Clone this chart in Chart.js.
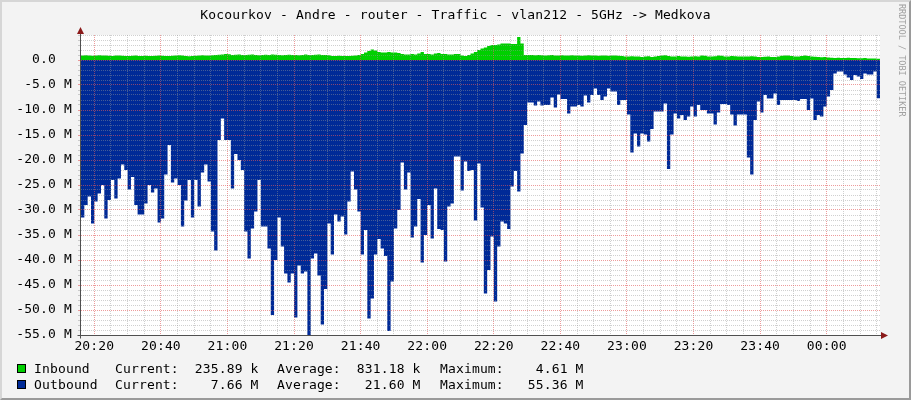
<!DOCTYPE html>
<html>
<head>
<meta charset="utf-8">
<script src="https://cdn.jsdelivr.net/npm/chart.js@4.4.0/dist/chart.umd.min.js"></script>
<style>
html, body { margin: 0; padding: 0; background: #f3f3f3; }
#wrap { position: relative; width: 911px; height: 400px; background: #f3f3f3; overflow: hidden;
        font-family: "DejaVu Sans Mono", monospace; font-size: 13px; letter-spacing: 0.15px; color: #000; }
#chart { position: absolute; left: 0; top: 0; }
#title { position: absolute; left: 0; top: 7px; width: 911px; text-align: center; line-height: 16px; white-space: pre; }
.row { position: absolute; left: 0; width: 911px; height: 16px; line-height: 16px; white-space: pre; }
.row span { position: absolute; top: 0; }
.sw { position: absolute; left: 17px; width: 7px; height: 7px; border: 1px solid #000; }
#mark { position: absolute; left: 897px; top: 4px; width: 9px; line-height: 9px; font-size: 8.5px; letter-spacing: 0;
        color: #a0a0a0; writing-mode: vertical-rl; white-space: nowrap; }
#frame { position: absolute; left: 0; top: 0; width: 907px; height: 396px; pointer-events: none;
         border-top: 2px solid #d6d6d6; border-left: 2px solid #d6d6d6;
         border-right: 2px solid #9a9a9a; border-bottom: 2px solid #9a9a9a; }
</style>
</head>
<body>
<div id="wrap">
  <canvas id="chart" width="911" height="400"></canvas>
  <div id="title">Kocourkov - Andre - router - Traffic - vlan212 - 5GHz -&gt; Medkova</div>
  <div class="sw" style="top:364px;background:#00CF00"></div>
  <div class="row" style="top:361px">
    <span style="left:34px">Inbound</span>
    <span style="left:115px">Current:  235.89 k</span>
    <span style="left:277px">Average:  831.18 k</span>
    <span style="left:440px">Maximum:    4.61 M</span>
  </div>
  <div class="sw" style="top:380px;background:#002A97"></div>
  <div class="row" style="top:377px">
    <span style="left:34px">Outbound</span>
    <span style="left:115px">Current:    7.66 M</span>
    <span style="left:277px">Average:   21.60 M</span>
    <span style="left:440px">Maximum:   55.36 M</span>
  </div>
  <div id="mark">RRDTOOL / TOBI OETIKER</div>
  <div id="frame"></div>
</div>
<script>
// Heure du premier échantillon (1 valeur par minute)
const startTime = '20:16';

// Trafic sortant, Mbit/s (dessiné vers le bas)
const outboundMbps = [
    31.5, 29, 27.3, 32.7, 28.3, 26.7, 25, 31.7, 28, 24,
    27.7, 23.7, 20.9, 22, 25.9, 23.4, 29, 30.9, 30.9, 28.7,
    25, 26.5, 25.7, 32.5, 31.7, 22.9, 17, 24.5, 23.7, 25,
    33.3, 28.1, 24, 31.5, 24, 29.3, 22.5, 20.9, 24.3, 34.3,
    38.1, 16, 11.7, 16, 16, 25.7, 18.8, 20, 22, 34.3,
    39.7, 33.7, 30.3, 24, 33.3, 33.3, 37.7, 51, 40, 31.5,
    37.3, 42.7, 44.5, 42.7, 51.5, 41.1, 42.7, 42.3, 55.36, 39.7,
    38.7, 43.1, 52.9, 45.8, 32.7, 38.9, 30.9, 32.3, 31.3, 34.9,
    28.3, 22.3, 25.9, 30.3, 38.9, 34, 51.7, 47.7, 38.9, 35.8,
    37.7, 39.2, 54.2, 44.3, 33.7, 30, 20.5, 25.9, 22.5, 35.5,
    33.3, 27.8, 40.5, 35, 29, 35.7, 25.7, 33.8, 34, 40.3,
    29.3, 28.7, 19.3, 19.3, 26.1, 20.3, 22.2, 22, 32.1, 20.7,
    29.5, 46.7, 42, 35.3, 48.3, 37.3, 32.3, 32.7, 33.8, 25.3,
    22.2, 26.3, 18.7, 13, 8.5, 8.5, 9.1, 8.3, 9.1, 9,
    9, 7.5, 9.5, 6.9, 7.8, 7.8, 10.7, 9.3, 9.3, 9,
    9.3, 7.1, 8.5, 7, 5.7, 7, 8, 7.3, 5.7, 6.3,
    6.3, 9, 8, 8, 10.9, 18.5, 14.7, 17.3, 14.7, 14.9,
    16.3, 13.8, 10.3, 10.3, 10.3, 8.7, 21.8, 14.9, 10.7, 11.7,
    11, 12, 11.3, 9.3, 11.3, 9, 10, 10, 10.7, 10.7,
    12.9, 10.5, 8.8, 8.8, 9, 10.9, 13.1, 10.9, 10.9, 10.9,
    19.5, 22.9, 12, 8.3, 10.5, 7, 7.7, 7.7, 6.7, 9,
    8, 8, 8, 8, 8, 8.2, 7.8, 7.8, 10, 7.7,
    12, 11, 11.3, 9.3, 7.3, 6, 2.7, 2.3, 2.3, 2.9,
    3.5, 4, 3, 3.3, 3.8, 2.7, 2.9, 2.9, 2.3, 7.66
];

// Trafic entrant, Mbit/s (dessiné vers le haut)
const inboundMbps = [
    0.9, 0.95, 0.9, 0.85, 0.9, 0.95, 0.9, 0.9, 0.85, 0.8,
    0.9, 0.9, 0.85, 0.8, 0.8, 0.85, 0.9, 0.8, 0.8, 0.85,
    0.8, 0.8, 0.85, 0.9, 0.85, 0.8, 0.8, 0.85, 0.9, 0.95,
    0.9, 0.8, 0.75, 0.8, 0.85, 0.9, 0.95, 0.9, 0.9, 0.95,
    1.0, 1.05, 1.1, 1.2, 1.15, 1.0, 1.05, 1.1, 1.0, 1.0,
    1.05, 1.1, 1.0, 0.95, 1.0, 1.05, 1.0, 1.1, 1.05, 1.0,
    0.95, 1.0, 1.05, 1.0, 1.0, 0.95, 1.0, 1.1, 1.0, 1.0,
    1.05, 1.1, 1.0, 1.0, 0.95, 0.8, 0.8, 0.85, 0.8, 0.8,
    0.8, 0.85, 0.9, 1.0, 1.2, 1.5, 1.8, 2.1, 1.9, 1.6,
    1.5, 1.5, 1.6, 1.5, 1.5, 1.4, 1.2, 1.1, 1.1, 1.2,
    1.1, 1.3, 1.6, 1.2, 1.2, 1.1, 1.3, 1.4, 1.2, 1.2,
    1.1, 1.1, 1.2, 1.2, 0.9, 0.8, 1.0, 1.3, 1.6, 2.0,
    2.3, 2.5, 2.8, 3.0, 3.0, 3.1, 3.3, 3.3, 3.3, 3.2,
    3.2, 4.61, 3.3, 1.0, 1.0, 1.0, 0.95, 1.0, 0.95, 0.9,
    0.95, 1.0, 0.9, 0.9, 0.95, 0.9, 0.9, 0.95, 0.9, 0.9,
    0.85, 0.9, 0.95, 0.9, 0.9, 0.85, 0.9, 0.9, 0.85, 0.9,
    0.9, 0.85, 0.8, 0.7, 0.7, 0.75, 0.7, 0.7, 0.6, 0.7,
    0.75, 0.6, 0.7, 0.8, 0.9, 0.95, 0.8, 0.7, 0.7, 0.8,
    0.7, 0.7, 0.65, 0.7, 0.75, 0.7, 0.9, 0.85, 0.7, 0.7,
    0.75, 0.9, 0.85, 0.7, 0.7, 0.8, 0.75, 0.7, 0.7, 0.7,
    0.7, 0.75, 0.7, 0.6, 0.6, 0.65, 0.7, 0.6, 0.6, 0.7,
    0.85, 0.9, 0.9, 0.8, 0.7, 0.7, 0.8, 0.9, 0.8, 0.7,
    0.65, 0.6, 0.55, 0.6, 0.5, 0.45, 0.4, 0.45, 0.4, 0.4,
    0.45, 0.4, 0.4, 0.35, 0.35, 0.4, 0.3, 0.3, 0.3, 0.24
];

// Etiquettes des axes
const timeLabels = ['20:20', '20:40', '21:00', '21:20', '21:40', '22:00', '22:20',
                    '22:40', '23:00', '23:20', '23:40', '00:00'];
const yTickLabels = ['0.0', '-5.0 M', '-10.0 M', '-15.0 M', '-20.0 M', '-25.0 M',
                     '-30.0 M', '-35.0 M', '-40.0 M', '-45.0 M', '-50.0 M', '-55.0 M'];

// Couleurs
const GRID_MINOR = 'rgba(150,150,150,0.45)';
const GRID_MAJOR = 'rgba(225,90,90,0.6)';

// Minutes écoulées depuis startTime
function toMinutes(s) {
    const p = s.split(':').map(Number);
    return p[0] * 60 + p[1];
}
const t0 = toMinutes(startTime);
function offsetOf(label) {
    return (toMinutes(label) - t0 + 1440) % 1440;
}
const timeTicks = timeLabels.map(offsetOf);
const yTicks = yTickLabels.map(l => parseFloat(l));

// Points (x = minute), un point final pour fermer le dernier palier
function toPoints(values, sign) {
    const pts = values.map((v, i) => ({ x: i, y: sign * v }));
    pts.push({ x: values.length, y: sign * values[values.length - 1] });
    return pts;
}

// Fond blanc de la zone de tracé, puis axes + flèches
const rrdFrame = {
    id: 'rrdFrame',
    beforeDraw(chart) {
        const a = chart.chartArea;
        const ctx = chart.ctx;
        ctx.save();
        ctx.fillStyle = '#ffffff';
        ctx.fillRect(a.left, a.top, a.right - a.left, a.bottom - a.top);
        ctx.restore();
    },
    afterDraw(chart) {
        const a = chart.chartArea;
        const ctx = chart.ctx;
        const ax = a.left - 0.5;
        const ay = a.bottom + 0.5;
        ctx.save();
        ctx.strokeStyle = '#505050';
        ctx.lineWidth = 1;
        ctx.beginPath();
        ctx.moveTo(ax, a.top - 4);
        ctx.lineTo(ax, ay + 3);
        ctx.moveTo(ax - 3, ay);
        ctx.lineTo(a.right + 4, ay);
        ctx.stroke();
        ctx.fillStyle = '#8b1a1a';
        ctx.beginPath();
        ctx.moveTo(ax, a.top - 8);
        ctx.lineTo(ax - 3.5, a.top - 1);
        ctx.lineTo(ax + 3.5, a.top - 1);
        ctx.closePath();
        ctx.fill();
        ctx.beginPath();
        ctx.moveTo(a.right + 8, ay);
        ctx.lineTo(a.right + 1, ay - 3.5);
        ctx.lineTo(a.right + 1, ay + 3.5);
        ctx.closePath();
        ctx.fill();
        ctx.restore();
    }
};

Chart.defaults.font.family = '"DejaVu Sans Mono", monospace';
Chart.defaults.font.size = 13;
Chart.defaults.color = '#000000';

new Chart(document.getElementById('chart'), {
    type: 'line',
    data: {
        datasets: [{
            label: 'Inbound',
            data: toPoints(inboundMbps, 1),
            stepped: true,
            fill: 'origin',
            backgroundColor: '#00CF00',
            borderColor: '#00CF00',
            borderWidth: 0,
            pointRadius: 0
        }, {
            label: 'Outbound',
            data: toPoints(outboundMbps, -1),
            stepped: true,
            fill: 'origin',
            backgroundColor: '#002A97',
            borderColor: '#002A97',
            borderWidth: 0,
            pointRadius: 0
        }]
    },
    options: {
        responsive: false,
        devicePixelRatio: 1,
        animation: false,
        events: [],
        layout: { padding: { top: 35, right: 31, bottom: 0, left: 0 } },
        plugins: {
            legend: { display: false },
            tooltip: { enabled: false }
        },
        scales: {
            x: {
                type: 'linear',
                min: 0,
                max: outboundMbps.length,
                afterBuildTicks(scale) {
                    const ticks = [];
                    for (let v = timeTicks[0] % 5; v < outboundMbps.length; v += 5) {
                        ticks.push({ value: v });
                    }
                    scale.ticks = ticks;
                },
                afterFit(scale) { scale.height = 65; },
                ticks: {
                    autoSkip: false,
                    maxRotation: 0,
                    padding: 4,
                    callback(value) {
                        const i = timeTicks.indexOf(value);
                        return i >= 0 ? timeLabels[i] : '';
                    }
                },
                grid: {
                    z: 1,
                    drawTicks: false,
                    lineWidth: 1,
                    borderDash: [1, 1],
                    color(c) {
                        return timeTicks.indexOf(c.tick.value) >= 0 ? GRID_MAJOR : GRID_MINOR;
                    }
                },
                border: { display: false, dash: [1, 1] }
            },
            y: {
                min: -55,
                max: 5,
                afterBuildTicks(scale) {
                    const ticks = [];
                    for (let v = -55; v <= 5; v += 1) ticks.push({ value: v });
                    scale.ticks = ticks;
                },
                afterFit(scale) { scale.width = 81; },
                ticks: {
                    autoSkip: false,
                    padding: 6,
                    callback(value) {
                        const i = yTicks.indexOf(value);
                        if (i < 0) return '';
                        return value === 0 ? yTickLabels[i] + '  ' : yTickLabels[i];
                    }
                },
                grid: {
                    z: 1,
                    drawTicks: true,
                    tickLength: 3,
                    lineWidth: 1,
                    borderDash: [1, 1],
                    color(c) {
                        return yTicks.indexOf(c.tick.value) >= 0 ? GRID_MAJOR : GRID_MINOR;
                    },
                    tickColor(c) {
                        return yTicks.indexOf(c.tick.value) >= 0 ? GRID_MAJOR : GRID_MINOR;
                    }
                },
                border: { display: false, dash: [1, 1] }
            }
        }
    },
    plugins: [rrdFrame]
});
</script>
</body>
</html>
